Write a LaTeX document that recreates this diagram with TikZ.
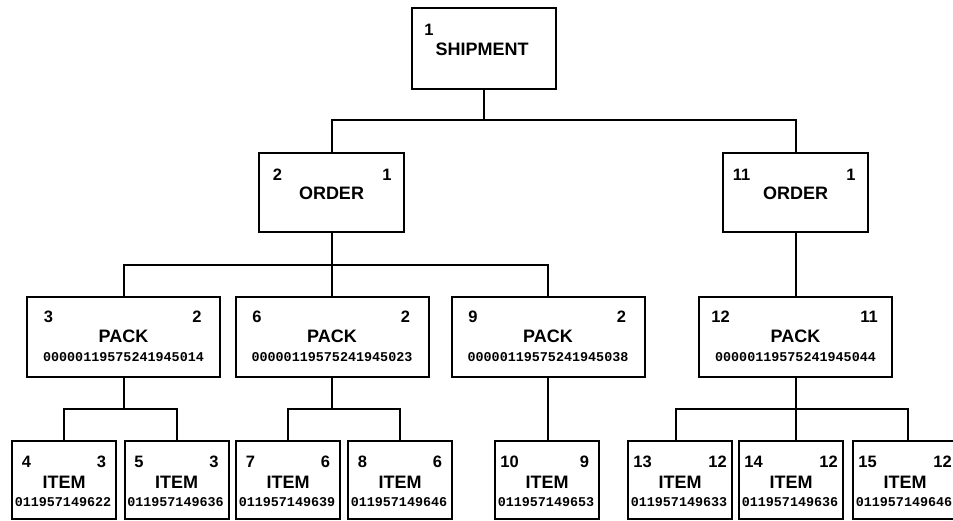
\documentclass[tikz,border=0pt]{standalone}
\usepackage{fontspec}
\setmainfont{Liberation Sans}[BoldFont={Liberation Sans Bold}]
\setmonofont{Liberation Mono}[BoldFont={Liberation Mono Bold}]
\newfontfamily\labelfont{Liberation Sans Bold}
\newfontfamily\codefont{Liberation Mono Bold}
\usetikzlibrary{calc}

\tikzset{
  frame/.style={draw, line width=2pt, inner sep=0pt, fill=white},
  shipbox/.style={frame, minimum width=144pt, minimum height=81pt},
  orderbox/.style={frame, minimum width=145pt, minimum height=79pt},
  packbox/.style={frame, minimum width=193pt, minimum height=80pt},
  itembox/.style={frame, minimum width=104pt, minimum height=78pt},
  title/.style={font=\labelfont\fontsize{18}{20}\selectfont, anchor=base, inner sep=0pt},
  num/.style={font=\labelfont\fontsize{16.5}{18}\selectfont, anchor=base, inner sep=0pt},
  code/.style={font=\codefont\fontsize{13.4}{15}\selectfont, anchor=base, inner sep=0pt},
  wire/.style={line width=2pt}
}

% order box: name, centre x, own number, parent number
\newcommand\treeorder[4]{%
  \node[orderbox] (#1) at (#2,192.5) {};
  \node[num] (#1-l) at ($(#1.north west)+(19.5,28.5)$) {#3};
  \node[num] (#1-r) at ($(#1.north east)+(-18,28.5)$) {#4};
  \node[title] (#1-t) at ($(#1.north)+(0,48)$) {ORDER};
}
% pack box: name, centre x, own number, parent number, SSCC
\newcommand\treepack[5]{%
  \node[packbox] (#1) at (#2,337) {};
  \node[num] (#1-l) at ($(#1.north west)+(22.5,27)$) {#3};
  \node[num] (#1-r) at ($(#1.north east)+(-24,27)$) {#4};
  \node[title] (#1-t) at ($(#1.north)+(0,46)$) {PACK};
  \node[code] (#1-c) at ($(#1.north)+(0,65)$) {#5};
}
% item box: name, centre x, own number, parent number, GTIN
\newcommand\treeitem[5]{%
  \node[itembox] (#1) at (#2,480) {};
  \node[num] (#1-l) at ($(#1.north west)+(15.5,27)$) {#3};
  \node[num] (#1-r) at ($(#1.north east)+(-15.5,27)$) {#4};
  \node[title] (#1-t) at ($(#1.north)+(0,48)$) {ITEM};
  \node[code] (#1-c) at ($(#1.north)+(-1,66)$) {#5};
}

\begin{document}
\begin{tikzpicture}[x=1pt, y=-1pt]
\useasboundingbox (0,0) rectangle (953,521);

% bus levels
\coordinate (busA) at (0,120.5);
\coordinate (busB) at (0,265);
\coordinate (busC) at (0,409);

% shipment
\node[shipbox] (s1) at (484,48.5) {};
\node[num] (s1-l) at ($(s1.north west)+(18,29)$) {1};
\node[title] (s1-t) at ($(s1.north)+(-2,49)$) {SHIPMENT};

% orders
\treeorder{o2}{331.5}{2}{1}
\treeorder{o11}{795.5}{11}{1}

% packs
\treepack{p3}{123.5}{3}{2}{00000119575241945014}
\treepack{p6}{332}{6}{2}{00000119575241945023}
\treepack{p9}{548}{9}{2}{00000119575241945038}
\treepack{p12}{795.5}{12}{11}{00000119575241945044}

% items
\treeitem{i4}{64}{4}{3}{011957149622}
\treeitem{i5}{176.5}{5}{3}{011957149636}
\treeitem{i7}{288}{7}{6}{011957149639}
\treeitem{i8}{400}{8}{6}{011957149646}
\treeitem{i10}{547}{10}{9}{011957149653}
\treeitem{i13}{680}{13}{12}{011957149633}
\treeitem{i14}{791}{14}{12}{011957149636}
\treeitem{i15}{905}{15}{12}{011957149646}

% shipment -> orders
\draw[wire] (s1.south) -- (s1.south |- busA);
\draw[wire] (o2.north) -- (o2.north |- busA) -- (o11.north |- busA) -- (o11.north);

% order 2 -> packs
\draw[wire] (o2.south) -- (o2.south |- busB);
\draw[wire] (p3.north) -- (p3.north |- busB) -- (p9.north |- busB) -- (p9.north);
\draw[wire] (p6.north) -- (p6.north |- busB);

% order 11 -> pack 12
\draw[wire] (o11.south) -- (p12.north);

% pack 3 -> items
\draw[wire] (p3.south) -- (p3.south |- busC);
\draw[wire] (i4.north) -- (i4.north |- busC) -- (i5.north |- busC) -- (i5.north);

% pack 6 -> items
\draw[wire] (p6.south) -- (p6.south |- busC);
\draw[wire] (i7.north) -- (i7.north |- busC) -- (i8.north |- busC) -- (i8.north);

% pack 9 -> item 10
\draw[wire] (p9.south) -- (p9.south |- i10.north);

% pack 12 -> items
\draw[wire] (p12.south) -- (p12.south |- i14.north);
\draw[wire] ([xshift=-4pt]i13.north) -- ([xshift=-4pt]i13.north |- busC)
  -- ([xshift=3pt]i15.north |- busC) -- ([xshift=3pt]i15.north);
\end{tikzpicture}
\end{document}
